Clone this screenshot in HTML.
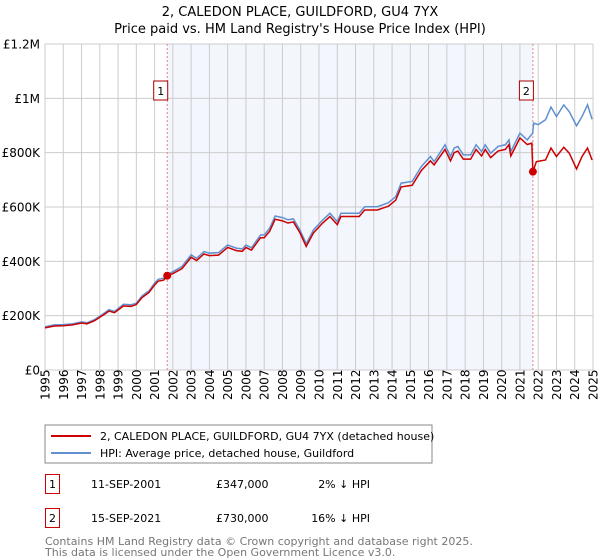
<!DOCTYPE html>
<html><head><meta charset="utf-8"><style>
body{margin:0;background:#fff;font-family:"Liberation Sans","DejaVu Sans",sans-serif;}
#wrap{position:relative;width:600px;height:560px;overflow:hidden;}
</style></head><body>
<div id="wrap">
<svg id="chart" width="600" height="560" viewBox="0 0 600 560" style="position:absolute;left:0;top:0;font-family:'DejaVu Sans','Liberation Sans',sans-serif">
<text x="300" y="16" text-anchor="middle" font-size="13" fill="#000">2, CALEDON PLACE, GUILDFORD, GU4 7YX</text>
<text x="300" y="33" text-anchor="middle" font-size="13" fill="#000">Price paid vs. HM Land Registry's House Price Index (HPI)</text>
<g id="grid"></g><g id="series"></g><g id="axes"></g>
</svg>
<svg width="600" height="560" style="position:absolute;left:0;top:0;font-family:'DejaVu Sans','Liberation Sans',sans-serif">
<rect x="45" y="425" width="387" height="38" fill="#fff" stroke="#888"/>
<g><line x1="51" y1="436" x2="91" y2="436" stroke="#cc0000" stroke-width="2"/><text x="100" y="440" font-size="11">2, CALEDON PLACE, GUILDFORD, GU4 7YX (detached house)</text></g>
<g><line x1="51" y1="453" x2="91" y2="453" stroke="#6090d0" stroke-width="2"/><text x="100" y="457" font-size="11">HPI: Average price, detached house, Guildford</text></g>
<g><rect x="45.5" y="474.5" width="14" height="19" fill="#fff" stroke="#cc0000"/><text x="49" y="488" font-size="11">1</text><text x="91" y="488" font-size="11">11-SEP-2001</text><text x="216" y="488" font-size="11">£347,000</text><text x="370" y="488" font-size="11" text-anchor="end">2% ↓ HPI</text></g>
<g><rect x="45.5" y="508.5" width="14" height="19" fill="#fff" stroke="#cc0000"/><text x="49" y="522" font-size="11">2</text><text x="91" y="522" font-size="11">15-SEP-2021</text><text x="216" y="522" font-size="11">£730,000</text><text x="370" y="522" font-size="11" text-anchor="end">16% ↓ HPI</text></g>
<text x="45" y="545" font-size="11" fill="#777">Contains HM Land Registry data © Crown copyright and database right 2025.</text>
<text x="45" y="556" font-size="11" fill="#777">This data is licensed under the Open Government Licence v3.0.</text>
</svg>
</div>
<script>
const yTicks=[0,200000,400000,600000,800000,1000000,1200000];
const yTickLabels=["£0","£200K","£400K","£600K","£800K","£1M","£1.2M"];
const xYears=[1995,1996,1997,1998,1999,2000,2001,2002,2003,2004,2005,2006,2007,2008,2009,2010,2011,2012,2013,2014,2015,2016,2017,2018,2019,2020,2021,2022,2023,2024,2025];
const saleDates=[2001.69,2021.71];
const salePrices=[347000,730000];
const saleLabels=["1","2"];
const hpiYears=[1995,1995.5,1996,1996.5,1997,1997.3,1997.7,1998,1998.3,1998.5,1998.8,1999,1999.3,1999.7,2000,2000.3,2000.7,2001,2001.2,2001.5,2001.7,2002,2002.5,2003,2003.3,2003.7,2004,2004.5,2005,2005.5,2005.8,2006,2006.3,2006.8,2007,2007.3,2007.6,2008,2008.3,2008.6,2008.95,2009.3,2009.7,2010.2,2010.6,2011,2011.2,2011.8,2012.2,2012.5,2013.2,2013.8,2014.2,2014.5,2015.1,2015.6,2016.1,2016.3,2016.9,2017.2,2017.4,2017.6,2017.9,2018.3,2018.6,2018.9,2019.1,2019.4,2019.8,2020.2,2020.4,2020.5,2021,2021.4,2021.7,2021.75,2022,2022.4,2022.7,2023,2023.4,2023.7,2024.1,2024.4,2024.7,2024.95];
const hpiValues=[159,166,167,170,177,174,185,198,212,222,216,226,242,240,246,272,292,320,334,338,352,362,381,424,411,436,430,432,460,448,446,460,450,497,497,522,567,561,553,556,516,465,516,552,577,546,577,577,577,601,601,616,638,688,694,749,786,767,829,786,817,823,792,792,829,804,829,798,823,829,847,804,872,847,872,909,903,921,968,933,976,951,899,933,976,923];
const priceYears=[1995,1995.5,1996,1996.5,1997,1997.3,1997.7,1998,1998.3,1998.5,1998.8,1999,1999.3,1999.7,2000,2000.3,2000.7,2001,2001.2,2001.5,2001.69,2002,2002.5,2003,2003.3,2003.7,2004,2004.5,2005,2005.5,2005.8,2006,2006.3,2006.8,2007,2007.3,2007.6,2008,2008.3,2008.6,2008.95,2009.3,2009.7,2010.2,2010.6,2011,2011.2,2011.8,2012.2,2012.5,2013.2,2013.8,2014.2,2014.5,2015.1,2015.6,2016.1,2016.3,2016.9,2017.2,2017.4,2017.6,2017.9,2018.3,2018.6,2018.9,2019.1,2019.4,2019.8,2020.2,2020.4,2020.5,2021,2021.4,2021.65,2021.71,2021.9,2022.4,2022.7,2023,2023.4,2023.7,2024.1,2024.4,2024.7,2024.95];
const priceValues=[155,162,163,166,173,170,181,194,207,217,211,221,236,234,241,266,286,313,327,331,347,355,373,415,403,427,421,423,451,439,437,451,441,487,487,511,555,549,541,545,506,455,505,541,565,535,565,565,565,589,589,603,625,674,680,734,770,755,812,770,800,806,776,776,812,788,812,782,806,812,830,788,854,830,835,730,767,773,817,786,820,798,740,786,817,773];
const X0=45,X1=593,Y0=370,Y1=44;
const xs=y=>X0+(y-1995)/30*(X1-X0);
const ys=v=>Y0-v/1200000*(Y0-Y1);
const NS="http://www.w3.org/2000/svg";
function mk(tag,attrs,parent){const e=document.createElementNS(NS,tag);for(const k in attrs)e.setAttribute(k,attrs[k]);parent.appendChild(e);return e;}
const grid=document.getElementById('grid'),ser=document.getElementById('series'),ax=document.getElementById('axes');
const shade=mk('rect',{x:xs(saleDates[0]),y:Y1,width:xs(saleDates[1])-xs(saleDates[0]),height:Y0-Y1,fill:'#f3f6fd'},grid);


xYears.forEach(yr=>{const l=mk('line',{x1:xs(yr),x2:xs(yr),y1:Y1,y2:Y0,stroke:'#cccccc','stroke-width':1},grid);


const t=mk('text',{x:0,y:0,transform:`translate(${xs(yr)+4.5},${Y0+30}) rotate(-90)`,'font-size':12,fill:'#000'},ax);t.textContent=yr;

});
yTicks.forEach((v,i)=>{const l=mk('line',{x1:X0,x2:X1,y1:ys(v),y2:ys(v),stroke:'#cccccc','stroke-width':1},grid);


const t=mk('text',{x:40,y:ys(v)+4.5,'text-anchor':'end','font-size':12,fill:'#000'},ax);t.textContent=yTickLabels[i];

});
saleDates.forEach((d,i)=>{const l=mk('line',{x1:xs(d),x2:xs(d),y1:Y1,y2:Y0,stroke:'#e88080','stroke-width':1,'stroke-dasharray':'2,2'},ser);


const b=mk('rect',{x:xs(d)-13.5,y:81,width:14,height:19,fill:'#fff',stroke:'#aa0000'},ser);


const t=mk('text',{x:xs(d)-6.5,y:95,'text-anchor':'middle','font-size':11},ser);t.textContent=saleLabels[i];

});
const hp=mk('polyline',{points:hpiYears.map((y,i)=>xs(y)+','+ys(hpiValues[i]*1000)).join(' '),fill:'none',stroke:'#6090d0','stroke-width':1.5},ser);


const pp=mk('polyline',{points:priceYears.map((y,i)=>xs(y)+','+ys(priceValues[i]*1000)).join(' '),fill:'none',stroke:'#cc0000','stroke-width':1.5},ser);


saleDates.forEach((d,i)=>{const c=mk('circle',{cx:xs(d),cy:ys(salePrices[i]),r:4,fill:'#cc0000'},ser);

});
</script>
</body></html>
